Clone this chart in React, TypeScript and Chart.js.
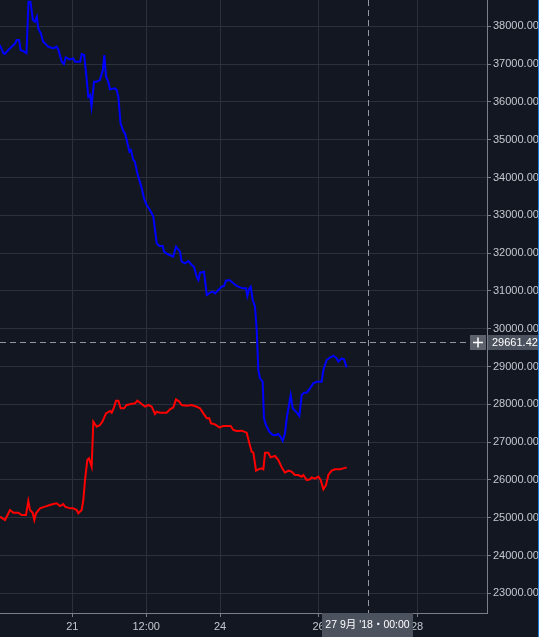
import React, { useEffect, useRef } from "react";
import { Chart, registerables } from "chart.js";
Chart.register(...registerables);

// ---- data (time in fractional day of September 2018, price) ----
const blueTimes = [
  19.53, 19.6, 19.63, 19.7, 19.77, 19.84, 19.87, 19.92, 19.95, 20.02,
  20.07, 20.11, 20.15, 20.2, 20.24, 20.28, 20.31, 20.36, 20.41, 20.51,
  20.615, 20.68, 20.72, 20.785, 20.83, 20.865, 20.95, 21.02, 21.055, 21.16,
  21.19, 21.24, 21.28, 21.325, 21.36, 21.39, 21.44, 21.495, 21.56, 21.62,
  21.65, 21.685, 21.73, 21.765, 21.87, 21.9, 21.935, 21.98, 22.04, 22.07,
  22.12, 22.16, 22.19, 22.24, 22.27, 22.32, 22.41, 22.456, 22.51, 22.577,
  22.645, 22.68, 22.713, 22.767, 22.835, 22.862, 22.93, 23.05, 23.106, 23.187,
  23.22, 23.289, 23.356, 23.424, 23.47, 23.525, 23.56, 23.593, 23.674, 23.73,
  23.796, 23.85, 23.9, 23.965, 24.033, 24.08, 24.12, 24.19, 24.27, 24.337,
  24.405, 24.473, 24.527, 24.554, 24.595, 24.622, 24.663, 24.71, 24.744, 24.777,
  24.811, 24.865, 24.892, 24.933, 25.0, 25.068, 25.136, 25.183, 25.217, 25.271,
  25.319, 25.353, 25.434, 25.475, 25.522, 25.569, 25.61, 25.657, 25.705, 25.759,
  25.826, 25.894, 25.962, 26.063, 26.097, 26.165, 26.219, 26.3, 26.368, 26.402,
  26.47, 26.517, 26.571,
];
const blueValues = [
  37505, 37286, 37267, 37373, 37461, 37550, 37638, 37638, 37373, 37329,
  37286, 38652, 38652, 38167, 38122, 38255, 37946, 37815, 37593, 37461,
  37417, 37461, 37373, 37064, 37003, 37179, 37126, 37153, 37064, 37064,
  37267, 37241, 36756, 36138, 36183, 35874, 36535, 36535, 36579, 36844,
  37241, 36667, 36535, 36333, 36359, 36315, 36138, 35433, 35212, 35169,
  34904, 34683, 34728, 34463, 34419, 34110, 33713, 33449, 33273, 33140,
  32964, 32611, 32258, 32188, 32188, 32038, 31976, 31906, 32170, 32038,
  31773, 31729, 31791, 31685, 31641, 31376, 31288, 31482, 31509, 30892,
  30953, 30980, 30936, 31024, 31112, 31130, 31271, 31288, 31200, 31130,
  31094, 31068, 31068, 30865, 31068, 31112, 30759, 30583, 29966, 28907,
  28687, 28599, 27629, 27452, 27276, 27188, 27188, 27214, 27161, 27038,
  27232, 27629, 28246, 27894, 27831, 27761, 27690, 28246, 28308, 28308,
  28423, 28555, 28599, 28599, 28907, 29172, 29225, 29287, 29216, 29128,
  29216, 29190, 28978,
];
const redTimes = [
  19.532, 19.634, 19.735, 19.803, 19.904, 19.972, 20.06, 20.107, 20.141, 20.195,
  20.229, 20.263, 20.344, 20.446, 20.547, 20.615, 20.683, 20.75, 20.818, 20.852,
  20.953, 21.021, 21.089, 21.122, 21.19, 21.224, 21.258, 21.305, 21.339, 21.393,
  21.427, 21.495, 21.562, 21.61, 21.684, 21.766, 21.8, 21.847, 21.888, 21.935,
  21.982, 22.05, 22.104, 22.192, 22.273, 22.32, 22.409, 22.476, 22.544, 22.612,
  22.679, 22.713, 22.781, 22.916, 22.984, 23.051, 23.106, 23.173, 23.221, 23.322,
  23.424, 23.525, 23.593, 23.661, 23.729, 23.782, 23.816, 23.898, 23.985, 24.067,
  24.168, 24.216, 24.27, 24.337, 24.439, 24.54, 24.595, 24.642, 24.676, 24.73,
  24.777, 24.845, 24.879, 24.913, 24.98, 25.028, 25.116, 25.184, 25.251, 25.319,
  25.387, 25.454, 25.522, 25.59, 25.657, 25.691, 25.759, 25.826, 25.86, 25.928,
  25.996, 26.043, 26.097, 26.151, 26.199, 26.266, 26.334, 26.436, 26.503, 26.571,
];
const redValues = [
  25027, 24939, 25204, 25133, 25133, 25071, 25071, 25442, 25204, 25133,
  24939, 25116, 25248, 25292, 25336, 25362, 25380, 25310, 25362, 25292,
  25248, 25248, 25204, 25116, 25204, 25468, 25997, 26527, 26571, 26350,
  27540, 27408, 27452, 27540, 27761, 27823, 27779, 27920, 28096, 28096,
  27894, 27894, 27982, 28008, 28026, 28096, 28008, 27937, 27982, 27937,
  27743, 27805, 27779, 27779, 27867, 27920, 28131, 28070, 27982, 27964,
  27982, 27937, 27894, 27761, 27629, 27629, 27497, 27470, 27391, 27426,
  27426, 27426, 27320, 27294, 27303, 27249, 26967, 26747, 26720, 26244,
  26280, 26306, 26280, 26720, 26720, 26597, 26632, 26527, 26332, 26191,
  26244, 26218, 26130, 26130, 26085, 26130, 25997, 26015, 26068, 26033,
  26085, 25997, 25751, 25865, 26130, 26244, 26280, 26280, 26306, 26332,
];

const xTickValues = [21, 22.5, 24, 26, 28];
const xTickLabels = ["21", "12:00", "24", "26", "28"];
const yTickValues = [
  23000, 24000, 25000, 26000, 27000, 28000, 29000, 30000,
  31000, 32000, 33000, 34000, 35000, 36000, 37000, 38000,
];
const xRange = [19.532, 29.42];
const yRange = [22479, 38696];
const crossTime = 27;
const crossPrice = 29661.42;
const crossTimeLabel = "27 9月 '18・00:00";

const FONT = "'Liberation Sans', Arial, 'Noto Sans CJK JP', sans-serif";
const BG = "#131722";
const GRID = "#2c303c";
const AXIS = "#7b7e89";
const TEXT = "#c5c8cf";

export default function App() {
  const ref = useRef<HTMLCanvasElement>(null);

  useEffect(() => {
    document.body.style.margin = "0";
    const canvas = ref.current!;

    const crosshair = {
      id: "crosshair",
      beforeDraw(chart: any) {
        const c = chart.ctx;
        c.save();
        c.fillStyle = BG;
        c.fillRect(0, 0, chart.width, chart.height);
        c.restore();
      },
      afterDraw(chart: any) {
        const c = chart.ctx;
        const area = chart.chartArea;
        const xs = chart.scales.x;
        const ys = chart.scales.y;
        const px = Math.round(xs.getPixelForValue(crossTime)) + 0.5;
        const py = Math.round(ys.getPixelForValue(crossPrice)) + 0.5;
        c.save();
        c.strokeStyle = "#9598a1";
        c.lineWidth = 1;
        c.setLineDash([6, 4]);
        c.beginPath();
        c.moveTo(px, area.top);
        c.lineTo(px, area.bottom);
        c.moveTo(area.left, py);
        c.lineTo(area.right, py);
        c.stroke();
        c.setLineDash([]);

        // price label
        const h = 15;
        c.fillStyle = "#4c525e";
        c.fillRect(area.right + 1, py - h / 2, chart.width - area.right - 2, h);
        c.fillStyle = "#5d616c";
        c.fillRect(area.right - 17, py - h / 2, 16, h);
        c.strokeStyle = "#ffffff";
        c.lineWidth = 1.5;
        c.beginPath();
        c.moveTo(area.right - 14, py);
        c.lineTo(area.right - 4, py);
        c.moveTo(area.right - 9, py - 5);
        c.lineTo(area.right - 9, py + 5);
        c.stroke();
        c.fillStyle = "#ffffff";
        c.font = `11px ${FONT}`;
        c.textAlign = "left";
        c.textBaseline = "middle";
        c.fillText(crossPrice.toFixed(2), area.right + 5, py + 0.5);

        // time label
        c.font = `10.5px ${FONT}`;
        const tw = 91;
        c.fillStyle = "#4c525e";
        c.fillRect(px - tw / 2 - 1, area.bottom, tw, chart.height - area.bottom);
        c.fillStyle = "#ffffff";
        c.textAlign = "center";
        c.fillText(crossTimeLabel, px - 1, area.bottom + 12);
        c.restore();
      },
    };

    const chart = new Chart(canvas, {
      type: "line",
      data: {
        datasets: [
          {
            data: blueTimes.map((t, i) => ({ x: t, y: blueValues[i] })),
            borderColor: "#0000ff",
            borderWidth: 2,
            pointRadius: 0,
            tension: 0,
          },
          {
            data: redTimes.map((t, i) => ({ x: t, y: redValues[i] })),
            borderColor: "#ff0000",
            borderWidth: 2,
            pointRadius: 0,
            tension: 0,
          },
        ],
      },
      options: {
        animation: false,
        responsive: false,
        devicePixelRatio: 1,
        layout: { padding: 0 },
        plugins: { legend: { display: false }, tooltip: { enabled: false } },
        scales: {
          x: {
            type: "linear",
            min: xRange[0],
            max: xRange[1],
            afterBuildTicks: (s: any) => {
              s.ticks = xTickValues.map((v) => ({ value: v }));
            },
            afterFit: (s: any) => {
              s.height = 24;
              s.paddingLeft = 0;
              s.paddingRight = 0;
            },
            ticks: {
              autoSkip: false,
              maxRotation: 0,
              padding: 3,
              color: TEXT,
              font: { family: FONT, size: 11 },
              callback: (v: any) => {
                const i = xTickValues.indexOf(Number(v));
                return i >= 0 ? xTickLabels[i] : "";
              },
            },
            grid: { color: GRID, tickLength: 4, tickColor: AXIS },
            border: { color: AXIS },
          },
          y: {
            type: "linear",
            position: "right",
            min: yRange[0],
            max: yRange[1],
            afterBuildTicks: (s: any) => {
              s.ticks = yTickValues.map((v) => ({ value: v }));
            },
            afterFit: (s: any) => {
              s.width = 52;
              s.paddingTop = 0;
              s.paddingBottom = 0;
            },
            ticks: {
              padding: 2,
              color: TEXT,
              font: { family: FONT, size: 11 },
              callback: (v: any) => Number(v).toFixed(2),
            },
            grid: { color: GRID, tickLength: 4, tickColor: AXIS },
            border: { color: AXIS },
          },
        },
      },
      plugins: [crosshair],
    } as any);

    return () => chart.destroy();
  }, []);

  return (
    <div style={{ position: "relative", width: 539, height: 637 }}>
      <canvas ref={ref} width={539} height={637} style={{ display: "block" }} />
      <div
        style={{
          position: "absolute",
          right: 0,
          top: 0,
          width: 1,
          height: 637,
          background: "#1e7bd6",
        }}
      />
    </div>
  );
}
